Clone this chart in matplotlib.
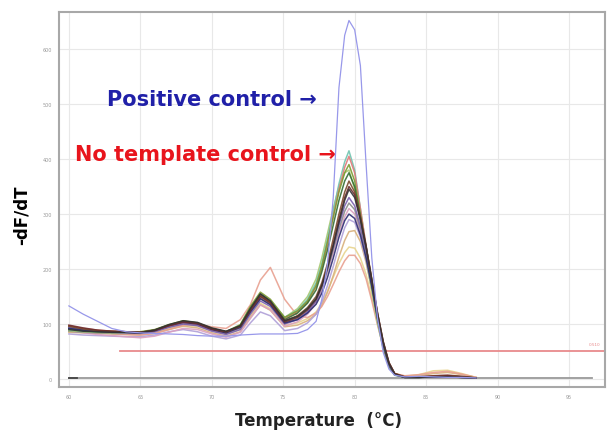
import matplotlib

matplotlib.use("Agg")

import matplotlib.pyplot as plt

temps = [60, 61, 62, 63, 64, 65, 66, 67, 68, 69, 70, 71, 72, 72.7, 73.4, 74.1,
         75.1, 76, 76.7, 77.3, 77.7, 78.1, 78.5, 78.9, 79.3, 79.6, 80.0, 80.4,
         80.8, 81.2, 81.6, 82.0, 82.4, 82.8, 83.5, 84.5, 85.5, 86.5, 87.5, 88.5]

teal = [0.90, 0.87, 0.86, 0.85, 0.85, 0.85, 0.89, 0.97, 1.04, 1.01, 0.91, 0.86, 0.98, 1.30, 1.55, 1.42, 1.12, 1.25, 1.45, 1.75, 2.10, 2.55, 3.05, 3.55, 3.95, 4.15, 3.80, 3.10, 2.40, 1.70, 1.05, 0.55, 0.22, 0.07, 0.03, 0.03, 0.04, 0.05, 0.04, 0.02]
red = [0.97, 0.92, 0.89, 0.87, 0.86, 0.85, 0.88, 0.96, 1.02, 0.99, 0.89, 0.84, 0.96, 1.28, 1.52, 1.40, 1.10, 1.22, 1.40, 1.68, 2.00, 2.45, 2.95, 3.45, 3.85, 4.05, 3.75, 3.10, 2.42, 1.75, 1.10, 0.58, 0.24, 0.08, 0.03, 0.03, 0.05, 0.06, 0.04, 0.02]
olive = [0.95, 0.90, 0.88, 0.86, 0.86, 0.86, 0.90, 0.99, 1.06, 1.02, 0.92, 0.86, 0.99, 1.32, 1.58, 1.45, 1.12, 1.24, 1.42, 1.70, 2.05, 2.50, 2.95, 3.40, 3.75, 3.90, 3.60, 3.00, 2.35, 1.70, 1.08, 0.58, 0.24, 0.08, 0.03, 0.03, 0.04, 0.05, 0.04, 0.02]
dark_green = [0.92, 0.88, 0.86, 0.85, 0.85, 0.85, 0.89, 0.98, 1.05, 1.01, 0.91, 0.85, 0.97, 1.28, 1.54, 1.41, 1.08, 1.20, 1.38, 1.62, 1.95, 2.35, 2.80, 3.25, 3.60, 3.75, 3.50, 2.95, 2.35, 1.72, 1.10, 0.60, 0.25, 0.08, 0.03, 0.03, 0.04, 0.04, 0.03, 0.02]
light_green = [0.88, 0.86, 0.85, 0.84, 0.84, 0.84, 0.88, 0.96, 1.02, 0.99, 0.90, 0.85, 0.98, 1.30, 1.52, 1.40, 1.12, 1.28, 1.50, 1.82, 2.20, 2.65, 3.10, 3.50, 3.75, 3.80, 3.45, 2.85, 2.20, 1.60, 1.02, 0.55, 0.22, 0.07, 0.03, 0.03, 0.04, 0.05, 0.04, 0.02]
brown = [0.96, 0.91, 0.88, 0.87, 0.86, 0.85, 0.89, 0.98, 1.05, 1.02, 0.92, 0.86, 0.96, 1.26, 1.52, 1.40, 1.06, 1.15, 1.30, 1.50, 1.75, 2.10, 2.55, 3.00, 3.40, 3.60, 3.40, 2.95, 2.42, 1.82, 1.20, 0.68, 0.30, 0.10, 0.04, 0.04, 0.06, 0.07, 0.05, 0.02]
maroon = [0.98, 0.93, 0.89, 0.87, 0.86, 0.85, 0.88, 0.97, 1.04, 1.01, 0.91, 0.86, 0.96, 1.25, 1.50, 1.38, 1.04, 1.12, 1.26, 1.45, 1.70, 2.05, 2.45, 2.90, 3.30, 3.50, 3.35, 2.92, 2.40, 1.80, 1.20, 0.68, 0.30, 0.10, 0.04, 0.04, 0.05, 0.06, 0.04, 0.02]
black = [0.90, 0.87, 0.86, 0.85, 0.85, 0.84, 0.89, 0.99, 1.06, 1.03, 0.93, 0.87, 0.97, 1.28, 1.55, 1.42, 1.06, 1.14, 1.28, 1.46, 1.70, 2.02, 2.42, 2.85, 3.25, 3.45, 3.30, 2.90, 2.40, 1.80, 1.18, 0.66, 0.28, 0.09, 0.03, 0.03, 0.04, 0.04, 0.03, 0.02]
purple = [0.94, 0.90, 0.87, 0.85, 0.84, 0.83, 0.86, 0.94, 1.00, 0.97, 0.87, 0.81, 0.90, 1.18, 1.42, 1.32, 1.00, 1.08, 1.22, 1.42, 1.68, 2.02, 2.40, 2.80, 3.15, 3.30, 3.15, 2.78, 2.30, 1.72, 1.12, 0.62, 0.26, 0.08, 0.03, 0.03, 0.04, 0.04, 0.03, 0.02]
navy = [0.92, 0.89, 0.87, 0.86, 0.85, 0.84, 0.88, 0.97, 1.03, 1.00, 0.90, 0.84, 0.94, 1.22, 1.46, 1.35, 1.02, 1.08, 1.20, 1.36, 1.56, 1.85, 2.20, 2.58, 2.88, 3.00, 2.92, 2.62, 2.20, 1.68, 1.12, 0.64, 0.28, 0.09, 0.03, 0.03, 0.04, 0.04, 0.03, 0.02]
gray = [0.87, 0.85, 0.84, 0.83, 0.83, 0.83, 0.87, 0.95, 1.01, 0.98, 0.89, 0.83, 0.93, 1.22, 1.47, 1.36, 1.03, 1.10, 1.24, 1.42, 1.66, 1.98, 2.35, 2.72, 3.05, 3.20, 3.08, 2.72, 2.25, 1.70, 1.12, 0.62, 0.26, 0.08, 0.03, 0.03, 0.04, 0.04, 0.03, 0.02]
tan = [0.85, 0.84, 0.83, 0.82, 0.81, 0.80, 0.83, 0.90, 0.96, 0.93, 0.84, 0.78, 0.86, 1.12, 1.35, 1.25, 0.95, 0.98, 1.06, 1.18, 1.34, 1.58, 1.88, 2.22, 2.52, 2.68, 2.70, 2.50, 2.12, 1.62, 1.10, 0.64, 0.28, 0.10, 0.05, 0.06, 0.10, 0.12, 0.08, 0.03]
salmon = [0.95, 0.90, 0.86, 0.83, 0.81, 0.80, 0.83, 0.90, 0.98, 1.00, 0.95, 0.92, 1.08, 1.35, 1.80, 2.03, 1.45, 1.15, 1.12, 1.20, 1.32, 1.50, 1.72, 1.95, 2.15, 2.25, 2.25, 2.10, 1.82, 1.42, 0.98, 0.58, 0.26, 0.10, 0.06, 0.08, 0.12, 0.14, 0.09, 0.03]
yellow = [0.90, 0.87, 0.85, 0.84, 0.83, 0.82, 0.85, 0.92, 0.98, 0.96, 0.88, 0.82, 0.90, 1.15, 1.38, 1.28, 0.98, 1.02, 1.10, 1.22, 1.38, 1.60, 1.85, 2.10, 2.30, 2.40, 2.38, 2.20, 1.90, 1.48, 1.02, 0.60, 0.27, 0.10, 0.05, 0.08, 0.15, 0.16, 0.10, 0.03]
pink = [0.88, 0.84, 0.81, 0.79, 0.77, 0.75, 0.78, 0.85, 0.92, 0.90, 0.82, 0.76, 0.85, 1.10, 1.35, 1.26, 0.96, 1.04, 1.18, 1.38, 1.62, 1.95, 2.30, 2.65, 2.95, 3.10, 3.00, 2.68, 2.22, 1.68, 1.10, 0.62, 0.26, 0.08, 0.04, 0.04, 0.06, 0.07, 0.05, 0.02]
lavender = [0.82, 0.80, 0.79, 0.78, 0.77, 0.77, 0.80, 0.86, 0.90, 0.86, 0.78, 0.73, 0.80, 1.02, 1.22, 1.15, 0.88, 0.92, 1.02, 1.18, 1.40, 1.70, 2.05, 2.42, 2.75, 2.90, 2.85, 2.58, 2.15, 1.62, 1.08, 0.60, 0.25, 0.08, 0.03, 0.03, 0.04, 0.05, 0.03, 0.02]
positive = [1.33, 1.18, 1.05, 0.92, 0.86, 0.84, 0.83, 0.82, 0.81, 0.79, 0.78, 0.78, 0.80, 0.81, 0.82, 0.82, 0.82, 0.83, 0.90, 1.05, 1.45, 2.10, 3.30, 5.30, 6.25, 6.52, 6.35, 5.70, 3.90, 2.20, 1.10, 0.48, 0.18, 0.07, 0.04, 0.05, 0.04, 0.03, 0.03, 0.02]

samples = [
    (yellow, "#e8d48e"), (tan, "#d8b07c"), (salmon, "#e8a090"), (lavender, "#b0a0d8"),
    (pink, "#dba0c0"), (gray, "#8c8c8c"), (light_green, "#a8c870"), (teal, "#70c4b0"),
    (red, "#e07878"), (olive, "#7c9a30"), (dark_green, "#336e33"), (purple, "#7a60b0"),
    (navy, "#2c2c70"), (brown, "#7a4c2c"), (maroon, "#6c2c2c"), (black, "#333333"),
]

baseline_x = [60, 96.6]
baseline_y = [0.02, 0.02]
threshold_x = [63.6, 97.5]
threshold_y = [0.51, 0.51]

xticks = [60, 65, 70, 75, 80, 85, 90, 95]
yticks = [0, 1, 2, 3, 4, 5, 6]
ytick_labels = ["0", "100", "200", "300", "400", "500", "600"]

fig = plt.figure(figsize=(6.07, 4.35), dpi=100)
ax = fig.add_axes([0.097, 0.108, 0.9, 0.862])

ax.plot(baseline_x, baseline_y, color="#9a9a9a", lw=1.3, zorder=2)
ax.plot([60, 60.6], [0.02, 0.02], color="#444444", lw=1.3, zorder=2)
ax.plot(threshold_x, threshold_y, color="#e88a8c", lw=1.3, zorder=2)
ax.text(97.2, 0.6, "0.510", color="#e88a8c", fontsize=3, ha="right", va="bottom")

for values, color in samples:
    ax.plot(temps, values, color=color, lw=1.1, alpha=0.9, zorder=3)
ax.plot(temps, positive, color="#9898ea", lw=0.9, zorder=4)

ax.text(62.7, 5.1, "Positive control \u2192", color="#2020a8", fontsize=15,
        fontweight="bold", va="center")
ax.text(60.4, 4.1, "No template control \u2192", color="#e8141c", fontsize=15,
        fontweight="bold", va="center")

ax.set_xlim(59.3, 97.53)
ax.set_ylim(-0.145, 6.673)
ax.set_xticks(xticks)
ax.set_xticklabels([str(t) for t in xticks])
ax.set_yticks(yticks)
ax.set_yticklabels(ytick_labels)
ax.tick_params(length=0, labelsize=3.5, labelcolor="#999999", pad=5)
ax.grid(True, color="#e8e8e8", lw=0.8)
ax.set_axisbelow(True)
for spine in ax.spines.values():
    spine.set_color("#a8a8a8")
    spine.set_linewidth(1.5)

fig.text(0.036, 0.505, "-dF/dT", rotation=90, fontsize=12, fontweight="bold",
         ha="center", va="center")
fig.text(0.524, 0.032, "Temperature  (\u00b0C)", fontsize=12, fontweight="bold",
         ha="center", va="center", color="#222222")

fig.savefig("out.png", dpi=100)
